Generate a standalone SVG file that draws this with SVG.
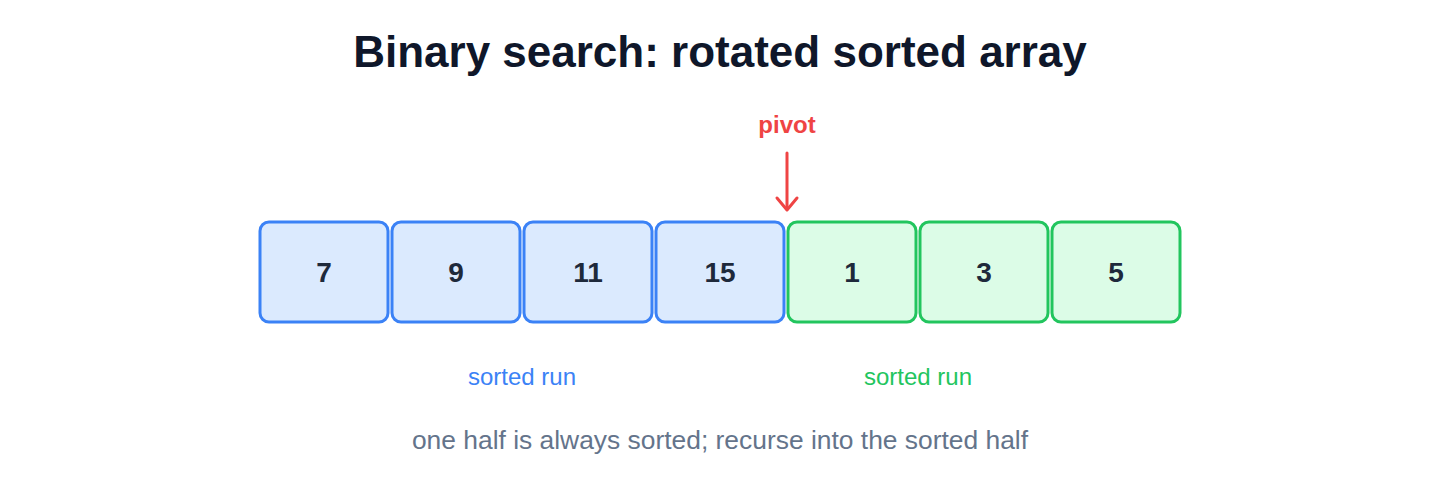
<svg xmlns="http://www.w3.org/2000/svg" width="1440" height="480" viewBox="0 0 1440 480">
  <defs>
    <style>
      text { font-family: "Liberation Sans", Arial, sans-serif; text-anchor: middle; }
      .title { font-size: 44px; font-weight: 700; fill: #0f172a; }
      .val { font-size: 28px; font-weight: 700; fill: #1e293b; }
      .pivot { font-size: 24px; font-weight: 700; fill: #ef4444; }
      .run { font-size: 24px; }
      .note { font-size: 26.4px; fill: #64748b; }
      .blue rect { fill: #dbeafe; stroke: #3b82f6; stroke-width: 3; }
      .green rect { fill: #dcfce7; stroke: #22c55e; stroke-width: 3; }
      .arrow { stroke: #ef4444; stroke-width: 3; fill: none; stroke-linecap: round; stroke-linejoin: round; }
    </style>
  </defs>
  <rect width="1440" height="480" fill="#ffffff"/>
  <text class="title" x="720" y="67">Binary search: rotated sorted array</text>

  <g id="cell-0" class="blue"><rect x="260" y="222" width="128" height="100" rx="9"/><text class="val" x="324" y="282">7</text></g>
  <g id="cell-1" class="blue"><rect x="392" y="222" width="128" height="100" rx="9"/><text class="val" x="456" y="282">9</text></g>
  <g id="cell-2" class="blue"><rect x="524" y="222" width="128" height="100" rx="9"/><text class="val" x="588" y="282">11</text></g>
  <g id="cell-3" class="blue"><rect x="656" y="222" width="128" height="100" rx="9"/><text class="val" x="720" y="282">15</text></g>
  <g id="cell-4" class="green"><rect x="788" y="222" width="128" height="100" rx="9"/><text class="val" x="852" y="282">1</text></g>
  <g id="cell-5" class="green"><rect x="920" y="222" width="128" height="100" rx="9"/><text class="val" x="984" y="282">3</text></g>
  <g id="cell-6" class="green"><rect x="1052" y="222" width="128" height="100" rx="9"/><text class="val" x="1116" y="282">5</text></g>

  <g id="pivot">
    <text class="pivot" x="787" y="133">pivot</text>
  </g>
  <g id="connectors">
    <line class="arrow" x1="787" y1="153" x2="787" y2="209"/>
    <polyline class="arrow" points="777,198 787,210 797,198"/>
  </g>

  <text class="run" x="522" y="385" fill="#3b82f6">sorted run</text>
  <text class="run" x="918" y="385" fill="#22c55e">sorted run</text>
  <text class="note" x="720" y="449">one half is always sorted; recurse into the sorted half</text>
</svg>
